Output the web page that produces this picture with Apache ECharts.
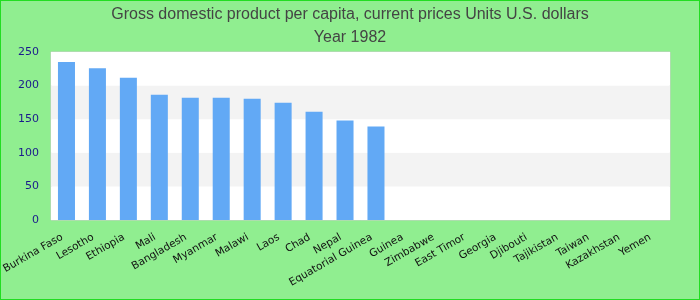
<!DOCTYPE html>
<html>
<head>
<meta charset="utf-8">
<script src="https://cdn.jsdelivr.net/npm/echarts@6/dist/echarts.min.js"></script>
<style>
html,body{margin:0;padding:0;}
#chart{width:700px;height:300px;box-sizing:border-box;border:1px solid #22dd22;background:#90ee90;}
</style>
</head>
<body>
<div id="chart"></div>
<script>
const titleLines = ["Gross domestic product per capita, current prices Units U.S. dollars", "Year 1982"];
const categories = ["Burkina Faso","Lesotho","Ethiopia","Mali","Bangladesh","Myanmar","Malawi","Laos","Chad","Nepal","Equatorial Guinea","Guinea","Zimbabwe","East Timor","Georgia","Djibouti","Tajikistan","Taiwan","Kazakhstan","Yemen"];
const values = [235, 226, 211.5, 186.5, 182, 182, 180.5, 174.5, 161, 148, 139, null, null, null, null, null, null, null, null, null];
const yTicks = {min: 0, max: 250, interval: 50};

const chart = echarts.init(document.getElementById('chart'), null, {renderer: 'canvas'});
chart.setOption({
  animation: false,
  backgroundColor: 'transparent',
  title: {
    text: titleLines.join('\n'),
    left: 'center',
    top: -3,
    textStyle: {fontFamily: 'Liberation Sans', fontSize: 16, fontWeight: 'normal', color: '#444', lineHeight: 23}
  },
  grid: {left: 50, right: 29, top: 51, bottom: 79, show: true, backgroundColor: '#fff', borderColor: '#ccc', borderWidth: 1, containLabel: false, outerBoundsMode: 'none'},
  xAxis: {
    type: 'category',
    data: categories,
    axisLine: {show: false},
    axisTick: {show: false},
    axisLabel: {interval: 0, rotate: 30, margin: 14, padding: [0, 5, 0, 0], fontFamily: 'DejaVu Sans', fontSize: 10.5, color: '#111'}
  },
  yAxis: {
    type: 'value',
    min: yTicks.min, max: yTicks.max, interval: yTicks.interval,
    axisLine: {show: false},
    axisTick: {show: false},
    splitLine: {show: false},
    splitArea: {show: true, areaStyle: {color: ['#ffffff', '#f3f3f3']}},
    axisLabel: {margin: 12, fontFamily: 'DejaVu Sans', fontSize: 11, color: '#1a1a8c'}
  },
  series: [{
    type: 'bar',
    data: values,
    barWidth: '55%',
    itemStyle: {color: '#62a9f5'}
  }]
});
</script>
</body>
</html>
